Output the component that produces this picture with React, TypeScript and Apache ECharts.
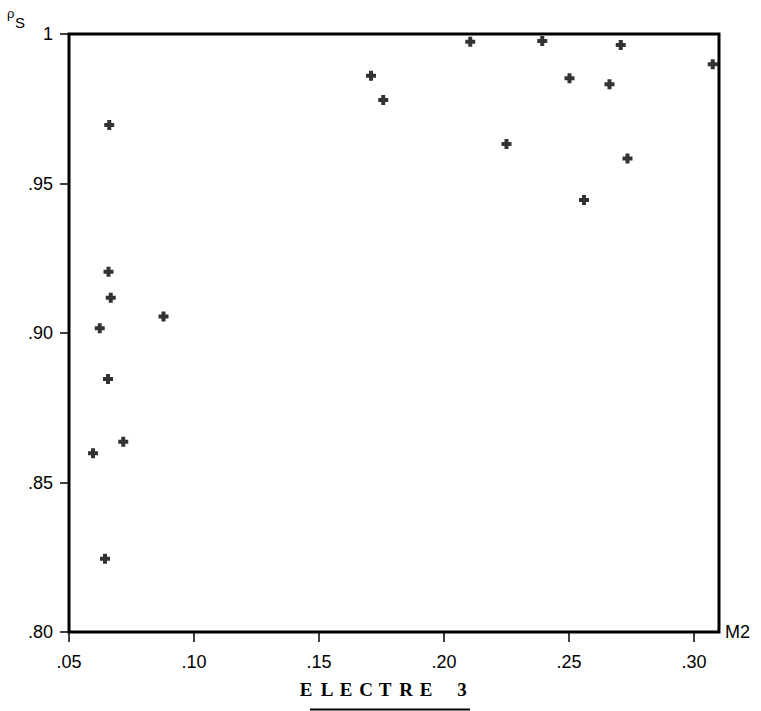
import React, { useEffect, useRef } from "react";
import * as echarts from "echarts";

// M2 values (x) and Spearman rho (y)
const m2Values = [
  0.0661, 0.0658, 0.0667, 0.0878, 0.0623, 0.0656, 0.0717, 0.0596, 0.0644,
  0.1708, 0.1757, 0.2105, 0.2393, 0.2707, 0.3075, 0.2502, 0.2662, 0.225,
  0.2734, 0.256,
];
const rhoSValues = [
  0.9696, 0.9205, 0.9118, 0.9055, 0.9016, 0.8846, 0.8636, 0.8598, 0.8245,
  0.986, 0.9779, 0.9974, 0.9977, 0.9963, 0.9899, 0.9852, 0.9832, 0.9632,
  0.9584, 0.9445,
];
const titleLetters = ["E", "L", "E", "C", "T", "R", "E", "3"];
const titleX = [306, 327, 346, 366, 385, 406, 426, 462];

const fmt = (v: number) => (Math.abs(v - 1) < 1e-9 ? "1" : v.toFixed(2).replace(/^0/, ""));

export default function App() {
  const ref = useRef<HTMLDivElement>(null);
  useEffect(() => {
    if (!ref.current) return;
    const chart = echarts.init(ref.current, null, { renderer: "svg" });
    const font = "'Liberation Sans', Arial, sans-serif";
    chart.setOption({
      animation: false,
      backgroundColor: "#fff",
      grid: {
        left: 69,
        top: 34,
        right: 42,
        bottom: 79,
        show: true,
        borderColor: "#000",
        borderWidth: 3,
        containLabel: false,
      },
      xAxis: {
        type: "value",
        min: 0.05,
        max: 0.31,
        interval: 0.05,
        name: "M2",
        nameLocation: "end",
        nameGap: 6,
        nameTextStyle: {
          fontFamily: font,
          fontSize: 18,
          color: "#000",
          align: "left",
          verticalAlign: "middle",
          padding: [0, 0, 14, 0],
        },
        splitLine: { show: false },
        axisLine: { show: false },
        axisTick: { show: true, length: 10, lineStyle: { color: "#000", width: 1.5 } },
        axisLabel: {
          showMaxLabel: false,
          margin: 21,
          fontFamily: font,
          fontSize: 18,
          color: "#000",
          formatter: (v: number) => {
            const k = Math.round(v / 0.05);
            return Math.abs(v - k * 0.05) < 1e-6 ? fmt(v) : "";
          },
        },
      },
      yAxis: {
        type: "value",
        min: 0.8,
        max: 1,
        interval: 0.05,
        splitLine: { show: false },
        axisLine: { show: false },
        axisTick: { show: true, length: 9, lineStyle: { color: "#000", width: 1.5 } },
        axisLabel: {
          margin: 16,
          fontFamily: font,
          fontSize: 18,
          color: "#000",
          formatter: (v: number) => fmt(v),
        },
      },
      series: [
        {
          type: "scatter",
          data: m2Values.map((x, i) => [x, rhoSValues[i]]),
          symbol: "path://M3,0H7V3H10V7H7V10H3V7H0V3H3Z",
          symbolSize: 10,
          itemStyle: { color: "#000" },
        },
      ],
      graphic: [
        {
          type: "text",
          left: 7,
          top: 7,
          style: { text: "ρ", font: `13px ${font}`, fill: "#000" },
        },
        {
          type: "text",
          left: 15,
          top: 15,
          style: { text: "S", font: `15px ${font}`, fill: "#000" },
        },
        ...titleLetters.map((ch, i) => ({
          type: "text",
          x: titleX[i],
          y: 689,
          style: {
            text: ch,
            font: `bold 19px 'Liberation Serif', serif`,
            fill: "#000",
            align: "center",
            verticalAlign: "middle",
          },
        })),
        {
          type: "line",
          shape: { x1: 310, y1: 709.5, x2: 470, y2: 709.5 },
          style: { stroke: "#000", lineWidth: 2 },
        },
      ],
    });
    return () => chart.dispose();
  }, []);
  return (
    <div
      ref={ref}
      style={{ position: "fixed", left: 0, top: 0, width: 761, height: 711, background: "#fff" }}
    />
  );
}
